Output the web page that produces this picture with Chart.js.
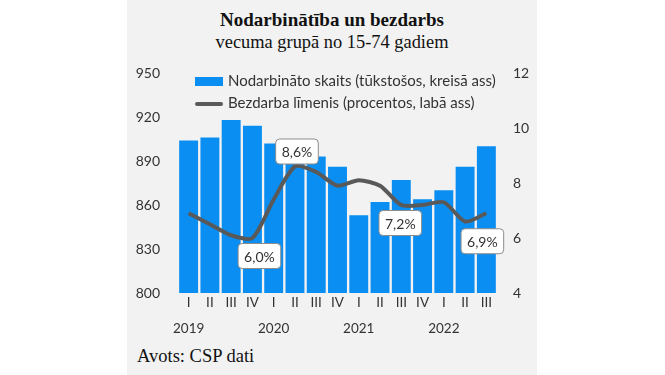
<!DOCTYPE html>
<html>
<head>
  <title>Nodarbinātība un bezdarbs</title>
  <script src="https://cdn.jsdelivr.net/npm/chart.js"></script>
  <style>
    body { margin: 0; background: #fff; }
    #panel { position: absolute; left: 127px; top: 0; width: 410px; height: 375px; background: #f2f2f2; }
    .title { position: absolute; left: 0; width: 410px; text-align: center; font-family: "Liberation Serif", serif; color: #111; }
    #legend { position: absolute; left: 68px; top: 71px; font-family: Lato, sans-serif; font-size: 15px; color: #333; }
    .item { position: absolute; left: 0; white-space: nowrap; }
    .swatch { position: absolute; left: 0; }
    #src { position: absolute; left: 10px; top: 346px; font-family: "Liberation Serif", serif; font-size: 18.5px; color: #111; }
    #wrap { position: absolute; left: 0; top: 55px; width: 410px; height: 290px; }
  </style>
</head>
<body>
  <div id="panel">
    <div class="title" style="top:9px;font-weight:bold;font-size:19px;">Nodarbinātība un bezdarbs</div>
    <div class="title" style="top:32px;font-size:18.4px;">vecuma grupā no 15-74 gadiem</div>
    <div id="wrap"><canvas id="chart"></canvas></div>
    <div id="legend">
      <div class="item" style="top:0;"><span class="swatch" style="top:6px;width:28px;height:9px;background:#0b8ef2;"></span><span style="margin-left:33px;">Nodarbināto skaits (tūkstošos, kreisā ass)</span></div>
      <div class="item" style="top:22px;"><span class="swatch" style="top:9px;width:28px;height:4px;background:#595959;border-radius:2px;"></span><span style="margin-left:33px;">Bezdarba līmenis (procentos, labā ass)</span></div>
    </div>
    <div id="src">Avots: CSP dati</div>
  </div>
  <script>
    const quarters = ['I', 'II', 'III', 'IV', 'I', 'II', 'III', 'IV', 'I', 'II', 'III', 'IV', 'I', 'II', 'III'];
    const years = ['2019', '', '', '', '2020', '', '', '', '2021', '', '', '', '2022', '', ''];
    // nodarbināto skaits, tūkst.
    const employed = [904, 906, 918, 914, 902, 897, 893, 886, 853, 862, 877, 864, 870, 886, 900];
    // bezdarba līmenis, %
    const unemployment = [6.9, 6.5, 6.1, 6.0, 7.4, 8.6, 8.4, 7.9, 8.1, 7.9, 7.2, 7.2, 7.3, 6.6, 6.9];
    const leftTicks = [800, 830, 860, 890, 920, 950];
    const rightTicks = [4, 6, 8, 10, 12];
    const callouts = [3, 5, 10, 14];

    // label box offsets from the point
    const calloutOffset = { 3: [7, 18], 5: [2, -15], 10: [-1, 18], 14: [-4, 28] };

    const calloutPlugin = {
      id: 'callouts',
      afterDatasetsDraw(chart) {
        const ctx = chart.ctx;
        const meta = chart.getDatasetMeta(1);
        ctx.save();
        ctx.font = '14px Lato';
        ctx.textAlign = 'center';
        ctx.textBaseline = 'middle';
        callouts.forEach(i => {
          const pt = meta.data[i];
          const off = calloutOffset[i];
          const cx = pt.x + off[0], cy = pt.y + off[1];
          const text = unemployment[i].toFixed(1).replace('.', ',') + '%';
          const w = ctx.measureText(text).width + 12, h = 25;
          ctx.beginPath();
          ctx.roundRect(cx - w / 2, cy - h / 2, w, h, 4);
          ctx.fillStyle = '#fff';
          ctx.fill();
          ctx.strokeStyle = '#8c8c8c';
          ctx.lineWidth = 1;
          ctx.stroke();
          ctx.fillStyle = '#333';
          ctx.fillText(text, cx, cy + 1);
        });
        ctx.restore();
      }
    };

    Chart.defaults.font.family = 'Lato';
    Chart.defaults.color = '#333';

    new Chart(document.getElementById('chart'), {
      type: 'bar',
      data: {
        labels: quarters.map((q, i) => [q, years[i]]),
        datasets: [
          {
            label: 'Nodarbināto skaits (tūkstošos, kreisā ass)',
            data: employed,
            yAxisID: 'y',
            backgroundColor: '#0b8ef2',
            barPercentage: 0.89,
            categoryPercentage: 1,
            order: 1
          },
          {
            type: 'line',
            label: 'Bezdarba līmenis (procentos, labā ass)',
            data: unemployment,
            yAxisID: 'y1',
            borderColor: '#595959',
            borderWidth: 4,
            pointRadius: 0,
            tension: 0.25,
            order: 0
          }
        ]
      },
      options: {
        responsive: true,
        maintainAspectRatio: false,
        animation: false,
        layout: { padding: { top: 18, left: 0, right: 0, bottom: 0 } },
        plugins: { legend: { display: false }, tooltip: { enabled: false } },
        scales: {
          x: {
            afterFit: s => { s.height = 52; },
            grid: { display: false, drawTicks: false },
            border: { display: false },
            ticks: { font: { size: 13.5, lineHeight: 1.95 }, padding: -4, maxRotation: 0, autoSkip: false }
          },
          y: {
            position: 'left',
            min: 800, max: 950,
            afterBuildTicks: s => { s.ticks = leftTicks.map(v => ({ value: v })); },
            afterFit: s => { s.width = 51; s.paddingTop = 0; s.paddingBottom = 0; },
            grid: { display: false, drawTicks: false },
            border: { display: false },
            ticks: { font: { size: 14 }, padding: 18 }
          },
          y1: {
            position: 'right',
            min: 4, max: 12,
            afterBuildTicks: s => { s.ticks = rightTicks.map(v => ({ value: v })); },
            afterFit: s => { s.width = 40; s.paddingTop = 0; s.paddingBottom = 0; },
            grid: { display: false, drawTicks: false },
            border: { display: false },
            ticks: { font: { size: 14 }, padding: 16 }
          }
        }
      },
      plugins: [calloutPlugin]
    });
  </script>
</body>
</html>
